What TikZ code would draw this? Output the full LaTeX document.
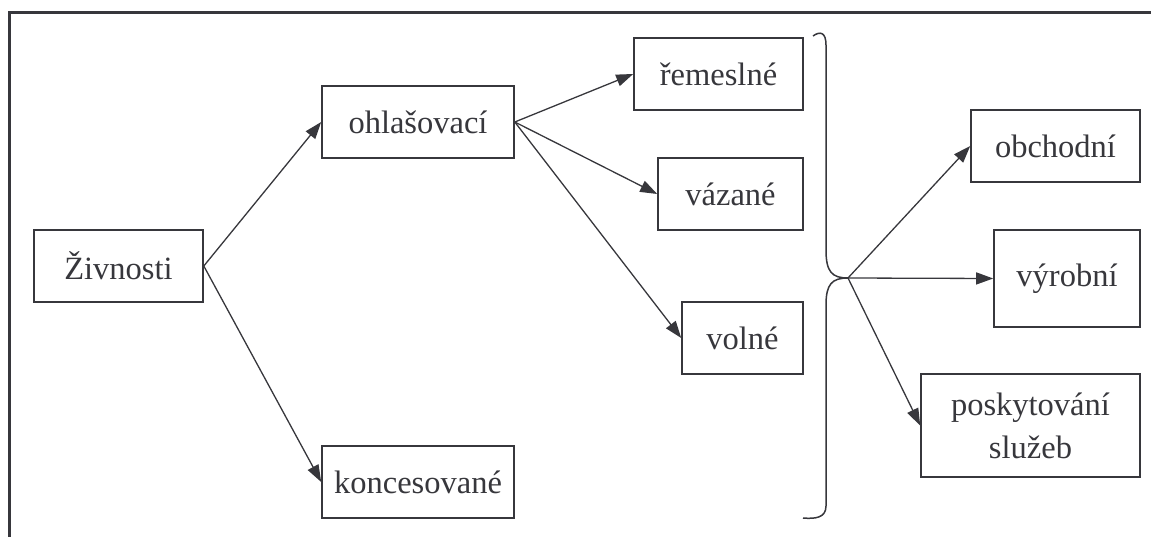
\documentclass[tikz,border=0pt]{standalone}
\usepackage{fontspec}
\setmainfont{Liberation Serif}
\usetikzlibrary{arrows.meta,calc}
\definecolor{ink}{RGB}{55,55,60}

\begin{document}
\begin{tikzpicture}
        [x=1pt,y=-1pt,ink,line width=1.3pt,
        every node/.style={shape=rectangle,draw=ink,line width=1.6pt,
        inner sep=2pt,minimum height=72pt,font=\fontsize{32.5}{38}\selectfont,text=ink},
        arr/.style={-{Triangle[length=17pt,width=12pt]},line width=1.3pt}]
        \useasboundingbox (0,0) rectangle (1151,537);
        % frame
        \draw[line width=3pt] (9,537) -- (9,13) -- (1151,13);
        %%
        \node[minimum width=169pt] (ziv) at (118.5,266) {Živnosti};
        \node[minimum width=192pt] (ohl) at (418,122) {ohlašovací};
        \node[minimum width=192pt] (kon) at (418,482) {koncesované};
        \node[minimum width=169pt] (rem) at (718.5,74) {řemeslné};
        \node[minimum width=145pt] (vaz) at (730.5,194) {vázané};
        \node[minimum width=121pt] (vol) at (742.5,338) {volné};
        \node[minimum width=169pt] (obc) at (1055.5,146) {obchodní};
        \node[minimum width=146pt,minimum height=97pt] (vyr) at (1067,278.5) {výrobní};
        \node[minimum width=219pt,minimum height=103pt,align=center] (pos) at (1030.5,425.5)
          {poskytování\\[5pt]služeb};
        %% brace
        \coordinate (tip) at (848,278);
        \draw[line width=1.5pt] (813,36) .. controls (820,31) and (826,32) .. (826,45)
          -- (826,250) .. controls (826,272) and (832,278) .. (tip)
          .. controls (832,278) and (826,284) .. (826,305)
          -- (826,506) .. controls (826,518) and (815,519) .. (803,518);
        \path
        \foreach \startNode/\endNode in {ziv/ohl,ziv/kon,ohl/rem,ohl/vaz,ohl/vol,
                                         tip/obc,tip/vyr,tip/pos}
        {
          (\startNode.east) edge[arr] (\endNode.west)
        };
	\end{tikzpicture}
\end{document}
